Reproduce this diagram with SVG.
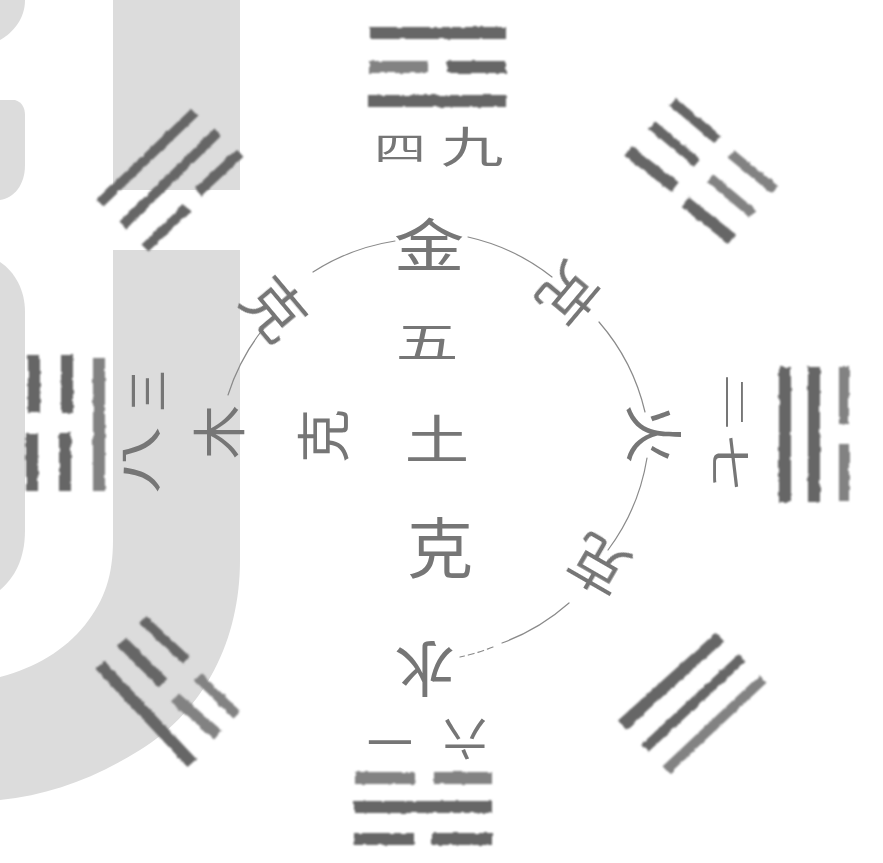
<svg xmlns="http://www.w3.org/2000/svg" width="883" height="863" viewBox="0 0 883 863">
<defs>
<filter id="rough" x="-10%" y="-10%" width="120%" height="120%">
<feTurbulence type="fractalNoise" baseFrequency="0.13" numOctaves="2" seed="4" result="n"/>
<feDisplacementMap in="SourceGraphic" in2="n" scale="3.2" xChannelSelector="R" yChannelSelector="G"/>
<feGaussianBlur stdDeviation="0.9"/>
</filter>
<filter id="soft" x="-10%" y="-10%" width="120%" height="120%"><feGaussianBlur stdDeviation="0.45"/></filter>
</defs>
<style>
.wm{fill:#dcdcdc}
.bars path{fill:none;stroke:#666666;stroke-width:12;stroke-linecap:butt}
.bars path.t{stroke-width:10}
.bars path.l{stroke:#828282}
.arc path{fill:none;stroke:#8a8a8a;stroke-width:1.2;stroke-linecap:round}
text{font-family:"Noto Sans CJK TC","Noto Sans CJK SC",sans-serif;font-weight:400;fill:#767676;text-anchor:middle;dominant-baseline:central}
</style>
<rect width="883" height="863" fill="#ffffff"/>
<g id="watermark">
<rect class="wm" x="113" y="0" width="127" height="190"/>
<path class="wm" d="M113 250H240V560C240 640 205 710 140 750C95 778 50 795 0 800V677C35 668 65 650 85 625C105 600 113 575 113 540Z"/>
<path class="wm" d="M0 0H25C25 18 14 32 0 40Z"/>
<path class="wm" d="M0 100H15C22 102 25 108 25 115V165C25 185 14 198 0 200Z"/>
<path class="wm" d="M0 262C15 272 25 290 25 312V530C25 560 14 578 0 590Z"/>
</g>
<g id="connectors" class="arc" filter="url(#soft)">
<path d="M228 395A210 210 0 0 1 263 329"/>
<path d="M313 272A210 210 0 0 1 395 241"/>
<path d="M468 237A210 210 0 0 1 552 277"/>
<path d="M599 322A210 210 0 0 1 645 412"/>
<path d="M647 458A210 210 0 0 1 608 550"/>
<path d="M569 603A210 210 0 0 1 502 643"/>
<path d="M493 647A210 210 0 0 1 460 657" stroke-dasharray="6 4"/>
</g>
<g class="bars" filter="url(#rough)">
<g id="trigram-top">
<path d="M370 33H506"/><path d="M369 67H428" class="l"/><path d="M447 67H506"/><path d="M368 101H506"/>
</g>
<g id="trigram-topright">
<path class="t" d="M673 102L717 139"/><path class="t l" d="M731 154L775 190"/>
<path class="t" d="M652 125L697 163"/><path class="t l" d="M710 178L753 214"/>
<path d="M628 151L675 187"/><path d="M685 202L732 239"/>
</g>
<g id="trigram-right">
<path d="M785 367V502"/><path d="M814 367V502"/>
<path class="t l" d="M844 367V424"/><path class="t l" d="M844 444V501"/>
</g>
<g id="trigram-bottomright">
<path d="M622 725L720 637"/><path class="t" d="M645 748L742 658"/><path class="t l" d="M666 770L763 679"/>
</g>
<g id="trigram-bottom">
<path d="M355 778H415" class="l"/><path d="M434 778H492" class="l"/>
<path d="M354 807H492"/>
<path d="M354 839H414"/><path d="M432 839H492"/>
</g>
<g id="trigram-bottomleft">
<path d="M100 665L192 763"/><path d="M122 642L163 683"/><path class="l" d="M175 698L218 735"/>
<path class="t" d="M143 620L186 660"/><path class="t l" d="M198 677L237 715"/>
</g>
<g id="trigram-left">
<path d="M34 355V413"/><path d="M32 433V491"/><path d="M67 355V413"/><path d="M65 433V491"/>
<path class="l" d="M99 358V491"/>
</g>
<g id="trigram-topleft">
<path class="t" d="M100 203L195 112"/><path class="t" d="M123 225L218 132"/>
<path class="t" d="M145 248L187 208"/><path class="t" d="M198 192L240 153"/>
</g>
</g>
<g filter="url(#soft)">
<g id="label-top">
<text transform="translate(400 146) scale(1 .62)" font-size="52">四</text>
<text transform="translate(472 144) scale(1.12 .78)" font-size="56">九</text>
</g>
<text id="node-metal" transform="translate(429 242) scale(1.04 .85)" font-size="68">金</text>
<text id="node-five" transform="translate(427 340) scale(1.08 .72)" font-size="58">五</text>
<text id="node-earth" transform="translate(437 436) scale(1.04 .85)" font-size="62">土</text>
<text id="node-ke-centre" transform="translate(440 544)" font-size="66">克</text>
<text id="node-ke-west" transform="translate(320 436) rotate(-90)" font-size="54">克</text>
<text id="edge-ke-nw" transform="translate(278 306) rotate(50)" font-size="60">克</text>
<text id="edge-ke-ne" transform="translate(571 296) rotate(130)" font-size="58">克</text>
<text id="edge-ke-se" transform="translate(597 568) rotate(210)" font-size="58">克</text>
<text id="node-wood" transform="translate(216 432) rotate(-90)" font-size="54">木</text>
<text id="node-fire" transform="translate(657 434) rotate(90)" font-size="60">火</text>
<text id="node-water" transform="translate(425 672) rotate(180)" font-size="60">水</text>
<g id="label-left">
<text transform="translate(144 391) rotate(-90)" font-size="42">三</text>
<text transform="translate(137 460) rotate(-90) scale(1 .62)" font-size="68">八</text>
</g>
<g id="label-right">
<text transform="translate(736 402) rotate(90) scale(1 .42)" font-size="56">二</text>
<text transform="translate(733 463) rotate(90) scale(1 .72)" font-size="56">七</text>
</g>
<g id="label-bottom">
<text transform="translate(390 745) rotate(180)" font-size="46">一</text>
<text transform="translate(465 741) rotate(180)" font-size="44">六</text>
</g>
</g>
</svg>
